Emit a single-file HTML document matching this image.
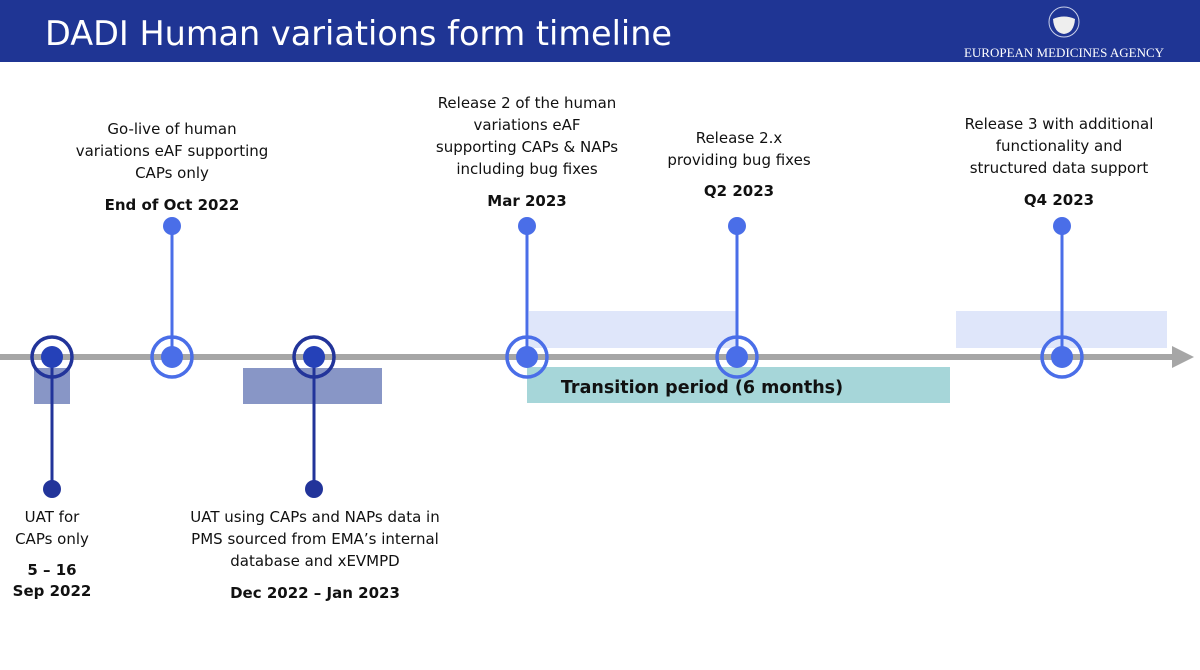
<!DOCTYPE html>
<html><head><meta charset="utf-8"><style>
html,body{margin:0;padding:0;background:#fff;}
svg{display:block;}
text{font-family:"DejaVu Sans","Liberation Sans",sans-serif;font-size:15px;fill:#111;}
.b{font-weight:bold;}
</style></head><body>
<svg width="1200" height="670" viewBox="0 0 1200 670" xmlns="http://www.w3.org/2000/svg">
<rect x="0" y="0" width="1200" height="62" fill="#1f3594"/>
<text x="45" y="45" style="font-size:33.5px;fill:#fff;font-family:'DejaVu Sans',sans-serif">DADI Human variations form timeline</text>
<circle cx="1064" cy="22" r="15" fill="#1f3594" stroke="#c9d0ea" stroke-width="1"/>
<path d="M1053 19 Q1064 14 1075 19 Q1074 33 1064 34 Q1054 33 1053 19 Z" fill="#eee"/>
<text x="1064" y="57" text-anchor="middle" style="font-family:'Liberation Serif',serif;font-size:13px;fill:#fff">EUROPEAN MEDICINES AGENCY</text>

<rect x="34" y="368" width="36" height="36" fill="#8896c6"/>
<rect x="243" y="368" width="139" height="36" fill="#8896c6"/>
<rect x="529" y="311" width="208" height="37" fill="#dfe6fa"/>
<rect x="956" y="311" width="211" height="37" fill="#dfe6fa"/>
<rect x="527" y="367" width="423" height="36" fill="#a6d6d9"/>
<text x="702" y="393" text-anchor="middle" class="b" style="font-size:17.5px">Transition period (6 months)</text>

<rect x="0" y="354" width="1176" height="6" fill="#a6a6a6"/>
<polygon points="1172,346 1194,357 1172,368" fill="#a6a6a6"/>

<g stroke="#22349a" fill="none">
<line x1="52" y1="357" x2="52" y2="489" stroke-width="3"/>
<line x1="314" y1="357" x2="314" y2="489" stroke-width="3"/>
<circle cx="52" cy="357" r="20" stroke-width="3.5"/>
<circle cx="314" cy="357" r="20" stroke-width="3.5"/>
</g>
<g fill="#2541b8">
<circle cx="52" cy="357" r="11"/><circle cx="314" cy="357" r="11"/>
<circle cx="52" cy="489" r="9" fill="#22349a"/><circle cx="314" cy="489" r="9" fill="#22349a"/>
</g>

<g stroke="#4a6ee8" fill="none">
<line x1="172" y1="226" x2="172" y2="357" stroke-width="3"/>
<line x1="527" y1="226" x2="527" y2="357" stroke-width="3"/>
<line x1="737" y1="226" x2="737" y2="357" stroke-width="3"/>
<line x1="1062" y1="226" x2="1062" y2="357" stroke-width="3"/>
<circle cx="172" cy="357" r="20" stroke-width="3.5"/>
<circle cx="527" cy="357" r="20" stroke-width="3.5"/>
<circle cx="737" cy="357" r="20" stroke-width="3.5"/>
<circle cx="1062" cy="357" r="20" stroke-width="3.5"/>
</g>
<g fill="#4a6ee8">
<circle cx="172" cy="357" r="11"/><circle cx="527" cy="357" r="11"/><circle cx="737" cy="357" r="11"/><circle cx="1062" cy="357" r="11"/>
<circle cx="172" cy="226" r="9"/><circle cx="527" cy="226" r="9"/><circle cx="737" cy="226" r="9"/><circle cx="1062" cy="226" r="9"/>
</g>

<g text-anchor="middle">
<text x="172" y="134">Go-live of human</text>
<text x="172" y="156">variations eAF supporting</text>
<text x="172" y="178">CAPs only</text>
<text x="172" y="210" class="b">End of Oct 2022</text>

<text x="527" y="108">Release 2 of the human</text>
<text x="527" y="130">variations eAF</text>
<text x="527" y="152">supporting CAPs &amp; NAPs</text>
<text x="527" y="174">including bug fixes</text>
<text x="527" y="206" class="b">Mar 2023</text>

<text x="739" y="143">Release 2.x</text>
<text x="739" y="165">providing bug fixes</text>
<text x="739" y="196" class="b">Q2 2023</text>

<text x="1059" y="129">Release 3 with additional</text>
<text x="1059" y="151">functionality and</text>
<text x="1059" y="173">structured data support</text>
<text x="1059" y="205" class="b">Q4 2023</text>

<text x="52" y="522">UAT for</text>
<text x="52" y="544">CAPs only</text>
<text x="52" y="575" class="b">5 – 16</text>
<text x="52" y="596" class="b">Sep 2022</text>

<text x="315" y="522">UAT using CAPs and NAPs data in</text>
<text x="315" y="544">PMS sourced from EMA’s internal</text>
<text x="315" y="566">database and xEVMPD</text>
<text x="315" y="598" class="b">Dec 2022 – Jan 2023</text>
</g>
</svg>
</body></html>
